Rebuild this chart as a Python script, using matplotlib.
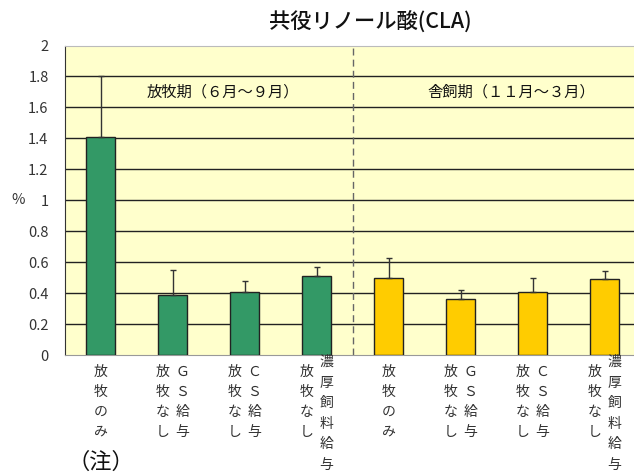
import matplotlib
matplotlib.use('Agg')
import matplotlib.pyplot as plt
import matplotlib.transforms as mtransforms
import numpy as np

plt.rcParams['font.family'] = ['Noto Sans CJK JP', 'DejaVu Sans']

# データ（％）
title = '共役リノール酸(CLA)'
periods = ['放牧期（６月～９月）', '舎飼期（１１月～３月）']
label_columns = [
    ['放牧のみ'],
    ['放牧なし', 'ＧＳ給与'],
    ['放牧なし', 'ＣＳ給与'],
    ['放牧なし', '濃厚飼料給与'],
    ['放牧のみ'],
    ['放牧なし', 'ＧＳ給与'],
    ['放牧なし', 'ＣＳ給与'],
    ['放牧なし', '濃厚飼料給与'],
]
means = [1.41, 0.39, 0.41, 0.51, 0.50, 0.36, 0.41, 0.49]
err_top = [1.80, 0.55, 0.48, 0.57, 0.63, 0.42, 0.50, 0.54]
yticks = [0, 0.2, 0.4, 0.6, 0.8, 1, 1.2, 1.4, 1.6, 1.8, 2]
ytick_labels = ['0', '0.2', '0.4', '0.6', '0.8', '1', '1.2', '1.4', '1.6', '1.8', '2']

W, H = 634, 473
fig = plt.figure(figsize=(W / 100, H / 100), dpi=100)
ax = fig.add_axes([64.5 / W, 118 / H, 576 / W, 309.5 / H])
ax.set_facecolor('#FFFFCC')

x = np.arange(len(means))
colors = ['#339966'] * 4 + ['#FFCC00'] * 4
upper = np.array(err_top) - np.array(means)

# グリッド
for v in yticks[1:-1]:
    ax.axhline(v, color='#222222', lw=1.0, zorder=1)

ax.bar(x, means, width=0.4, color=colors, edgecolor='#222222', linewidth=1.0, zorder=3)
ax.errorbar(x, means, yerr=[np.zeros(len(means)), upper], fmt='none',
            ecolor='#333333', elinewidth=1.0, capsize=2.5, capthick=1.0, zorder=4)

# 期間の区切り
ax.plot([3.5, 3.5], [0, 2], color='#666666', lw=1.0, ls=(0, (5, 3)), zorder=2)
ax.text(1.7, 1.7, periods[0], ha='center', va='center', fontsize=11, color='#111111', zorder=5)
ax.text(5.7, 1.7, periods[1], ha='center', va='center', fontsize=11, color='#111111', zorder=5)

ax.set_xlim(-0.5, 7.5)
ax.set_ylim(0, 2)
ax.set_xticks([])
ax.set_yticks(yticks)
ax.set_yticklabels(ytick_labels, fontsize=10.5, color='#333333')
ax.tick_params(axis='y', length=0, pad=11.5)

ax.spines['left'].set_color('#333333')
ax.spines['top'].set_color('#bbbbbb')
ax.spines['bottom'].set_color('#999999')
ax.spines['right'].set_visible(False)

# ％ の表示
trans = mtransforms.blended_transform_factory(ax.transAxes, ax.transData)
ax.text(-0.081, 1, '%', transform=trans, ha='center', va='center', fontsize=10.5, color='#333333')

# 縦書きの項目名
for i, cols in enumerate(label_columns):
    n = len(cols)
    for j, col in enumerate(cols):
        if n == 1:
            dx = 0
        else:
            dx = -10 if j == 0 else 10
        step = 20 if len(col) <= 4 else 20.6
        start = 17 if len(col) <= 4 else 7
        for k, ch in enumerate(col):
            ax.annotate(ch, xy=(i, 0), xycoords='data',
                        xytext=(dx, -(start + k * step)), textcoords='offset pixels',
                        ha='center', va='center', fontsize=10, color='#333333',
                        annotation_clip=False)

ax.annotate('（注）', xy=(0, 0), xycoords='data', xytext=(0, -107),
            textcoords='offset pixels', ha='center', va='center', fontsize=16,
            color='#111111', annotation_clip=False)

fig.text(370 / W, 1 - 22 / H, title, ha='center', va='center', fontsize=15.3,
         fontweight='medium', color='#111111')

fig.savefig('out.png', dpi=100)
